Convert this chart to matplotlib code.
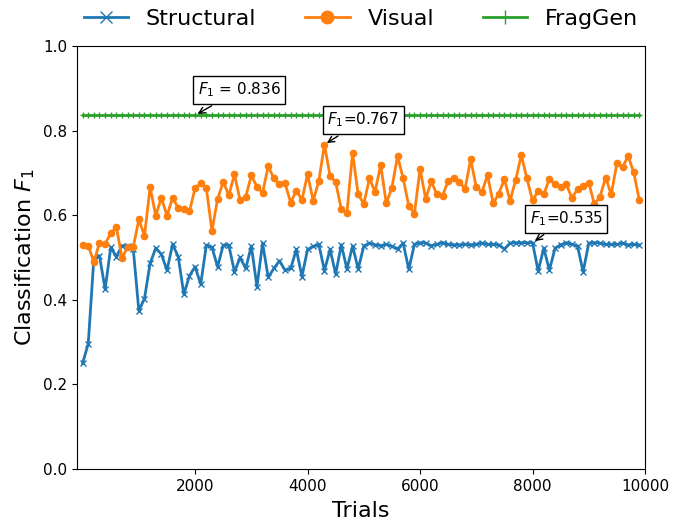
import numpy as np
import matplotlib
matplotlib.use("Agg")
import matplotlib.pyplot as plt

# trials logged every 100
trials = np.arange(0, 10000, 100)

structural = [0.250, 0.296, 0.498, 0.504, 0.425, 0.524, 0.502, 0.528, 0.526, 0.521,
              0.374, 0.403, 0.486, 0.522, 0.508, 0.470, 0.531, 0.502, 0.413, 0.457,
              0.478, 0.437, 0.529, 0.524, 0.478, 0.529, 0.529, 0.466, 0.500, 0.474,
              0.527, 0.431, 0.534, 0.453, 0.474, 0.492, 0.470, 0.474, 0.519, 0.455,
              0.519, 0.526, 0.531, 0.469, 0.519, 0.461, 0.530, 0.473, 0.527, 0.473,
              0.527, 0.534, 0.530, 0.528, 0.531, 0.526, 0.520, 0.534, 0.472, 0.531,
              0.535, 0.534, 0.528, 0.531, 0.535, 0.531, 0.530, 0.530, 0.531, 0.530,
              0.531, 0.534, 0.531, 0.531, 0.530, 0.520, 0.534, 0.535, 0.535, 0.535,
              0.535, 0.468, 0.522, 0.470, 0.522, 0.530, 0.535, 0.531, 0.527, 0.466,
              0.534, 0.535, 0.534, 0.531, 0.531, 0.531, 0.534, 0.530, 0.531, 0.530]

visual = [0.530, 0.528, 0.489, 0.535, 0.532, 0.557, 0.572, 0.499, 0.524, 0.524,
          0.590, 0.551, 0.666, 0.599, 0.641, 0.599, 0.641, 0.617, 0.615, 0.609,
          0.664, 0.675, 0.664, 0.563, 0.638, 0.679, 0.647, 0.697, 0.635, 0.643,
          0.694, 0.667, 0.653, 0.716, 0.687, 0.673, 0.675, 0.630, 0.658, 0.636,
          0.697, 0.634, 0.681, 0.767, 0.693, 0.678, 0.614, 0.606, 0.747, 0.649,
          0.627, 0.687, 0.655, 0.719, 0.628, 0.665, 0.740, 0.687, 0.622, 0.604,
          0.709, 0.639, 0.680, 0.649, 0.646, 0.681, 0.689, 0.678, 0.662, 0.732,
          0.666, 0.655, 0.695, 0.628, 0.651, 0.685, 0.634, 0.683, 0.742, 0.687,
          0.635, 0.657, 0.649, 0.686, 0.673, 0.666, 0.673, 0.641, 0.661, 0.669,
          0.677, 0.626, 0.644, 0.689, 0.649, 0.723, 0.713, 0.740, 0.701, 0.635]

fraggen = [0.836] * 100

fig = plt.figure(figsize=(6.73, 5.27), dpi=100)
ax = fig.add_axes([0.1144, 0.1101, 0.8440, 0.8026])

ax.plot(trials, structural, marker='x', markersize=4, linewidth=2, color='C0', label='Structural')
ax.plot(trials, visual, marker='o', markersize=4.5, linewidth=2, color='C1', label='Visual')
ax.plot(trials, fraggen, marker='+', markersize=5, linewidth=2, color='C2', label='FragGen')

box = dict(boxstyle='square,pad=0.3', fc='white', ec='black')
arrow = dict(arrowstyle='->', color='black')
ax.annotate('$F_1$ = 0.836', xy=(2000, 0.836), xytext=(2780, 0.896), fontsize=11,
            ha='center', va='center', bbox=box, arrowprops=arrow)
ax.annotate('$F_1$=0.767', xy=(4300, 0.767), xytext=(4990, 0.825), fontsize=11,
            ha='center', va='center', bbox=box, arrowprops=arrow)
ax.annotate('$F_1$=0.535', xy=(8000, 0.535), xytext=(8600, 0.592), fontsize=11,
            ha='center', va='center', bbox=box, arrowprops=arrow)

ax.set_xlim(-100, 10000)
ax.set_ylim(0, 1)
ax.set_xticks([2000, 4000, 6000, 8000, 10000])
ax.set_yticks([0.0, 0.2, 0.4, 0.6, 0.8, 1.0])
ax.tick_params(labelsize=11)
ax.set_xlabel('Trials', fontsize=16, labelpad=5)
ax.set_ylabel('Classification $F_1$', fontsize=16)

ax.legend(loc='lower center', bbox_to_anchor=(0.5, 1.04), ncol=3, frameon=False,
          fontsize=16, markerscale=2, handlelength=2, columnspacing=2.2,
          borderaxespad=0.0, borderpad=0.0)

fig.savefig('out.png', dpi=100)
